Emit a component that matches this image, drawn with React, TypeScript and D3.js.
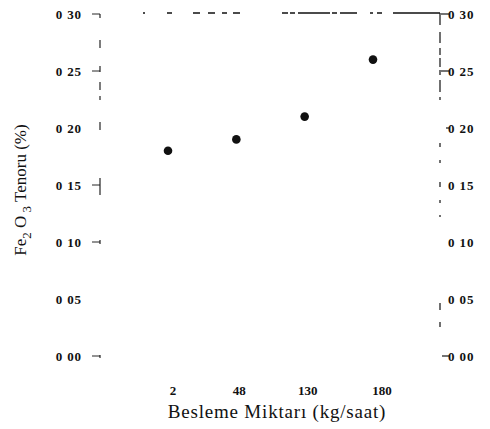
import React, { useEffect, useRef } from "react";
import * as d3 from "d3";

// Feed rate categories (kg/saat)
const feedRates = ["2", "48", "130", "180"];
// Fe2O3 content (%) per feed rate
const fe2o3 = [0.18, 0.19, 0.21, 0.26];
// Y axis ticks
const yTicks = [0, 0.05, 0.1, 0.15, 0.2, 0.25, 0.3];

const W = 490;
const H = 429;
const left = 100;
const right = 440;
const top = 14;
const bottom = 356;

const fmt = (v: number) => v.toFixed(2).replace(".", " ");

export default function App() {
  const ref = useRef<SVGSVGElement | null>(null);

  useEffect(() => {
    const svg = d3.select(ref.current);
    svg.selectAll("*").remove();

    const x = d3.scalePoint<string>().domain(feedRates).range([168, 373]);
    const y = d3.scaleLinear().domain([0, 0.3]).range([bottom, top]);

    const ink = "#111";
    const font = "'Liberation Serif', 'Times New Roman', serif";

    // frame: top, left and right edges drawn as worn, broken strokes
    svg.append("line")
      .attr("x1", left + 43).attr("x2", right).attr("y1", top - 1).attr("y2", top - 1)
      .attr("stroke", ink).attr("stroke-width", 1.5)
      .attr("stroke-dasharray", "2 22 5 21 7 8 7 7 5 6 7 42 6 2 5 3 32 2 5 3 17 13 3 4 5 11 47 500");
    svg.append("line")
      .attr("x1", left).attr("x2", left).attr("y1", top).attr("y2", bottom + 2)
      .attr("stroke", ink).attr("stroke-width", 1.1)
      .attr("stroke-dasharray", "4 22 8 18 6 10 8 6 4 22 8 48 17 45 4 111 3 500");
    svg.append("line")
      .attr("x1", right).attr("x2", right).attr("y1", top - 1).attr("y2", bottom + 2)
      .attr("stroke", ink).attr("stroke-width", 1.2)
      .attr("stroke-dasharray", "12 7 11 5 7 3 9 3 5 5 12 5 3 43 4 13 3 19 5 13 3 12 2 86 7 12 5 500");

    // left axis ticks and labels
    const gl = svg.append("g").attr("transform", `translate(${left},0)`);
    const leftTickShown = [true, false, true, true, false, true, true];
    yTicks.forEach((t, i) => {
      gl.append("line").attr("x1", -8).attr("x2", 0).attr("y1", y(t)).attr("y2", y(t))
        .attr("stroke", ink).attr("stroke-width", 1).attr("opacity", leftTickShown[i] ? 0.9 : 0);
      gl.append("text").attr("x", -18).attr("y", y(t)).attr("dy", "0.35em")
        .attr("text-anchor", "end").attr("font-family", font).attr("font-size", 13)
        .attr("font-weight", "bold").attr("letter-spacing", 0.9).attr("fill", ink).text(fmt(t));
    });

    // right axis ticks and labels
    const gr = svg.append("g").attr("transform", `translate(${right},0)`);
    const rightTickShown = [true, false, false, false, true, true, true];
    yTicks.forEach((t, i) => {
      gr.append("line").attr("x1", i === 4 ? 6 : i === 0 ? 2 : 1).attr("x2", 9).attr("y1", y(t)).attr("y2", y(t))
        .attr("stroke", ink).attr("stroke-width", 1.3).attr("opacity", rightTickShown[i] ? 0.9 : 0);
      gr.append("text").attr("x", 8).attr("y", y(t)).attr("dy", "0.35em")
        .attr("text-anchor", "start").attr("font-family", font).attr("font-size", 13)
        .attr("font-weight", "bold").attr("letter-spacing", 0.9).attr("fill", ink).text(fmt(t));
    });

    // x category labels
    svg.append("g").selectAll("text").data(feedRates).join("text")
      .attr("x", (d, i) => (x(d) as number) + [5, 3, 3, 9][i])
      .attr("y", 395)
      .attr("text-anchor", "middle").attr("font-family", font).attr("font-size", 13)
      .attr("font-weight", "bold").attr("fill", ink).text((d) => d);

    // data points
    svg.append("g").selectAll("circle").data(feedRates).join("circle")
      .attr("cx", (d) => x(d) as number)
      .attr("cy", (_, i) => y(fe2o3[i]))
      .attr("r", 4.3).attr("fill", ink);

    // x title
    svg.append("text").attr("x", 277).attr("y", 418).attr("text-anchor", "middle")
      .attr("font-family", font).attr("font-size", 19).attr("letter-spacing", 0.8).attr("fill", ink)
      .text("Besleme Miktarı (kg/saat)");

    // y title with subscripts
    const yt = svg.append("text")
      .attr("transform", `translate(26,${190}) rotate(-90)`)
      .attr("text-anchor", "middle").attr("font-family", font).attr("font-size", 17).attr("fill", ink);
    yt.append("tspan").text("Fe");
    yt.append("tspan").attr("dy", 5).attr("font-size", 13).text("2");
    yt.append("tspan").attr("dy", -5).text(" O");
    yt.append("tspan").attr("dy", 5).attr("font-size", 13).text(" 3");
    yt.append("tspan").attr("dy", -5).text(" Tenoru (%)");
  }, []);

  return (
    <svg ref={ref} width={W} height={H} style={{ display: "block", position: "absolute", left: 0, top: 0, background: "#fff" }} />
  );
}
